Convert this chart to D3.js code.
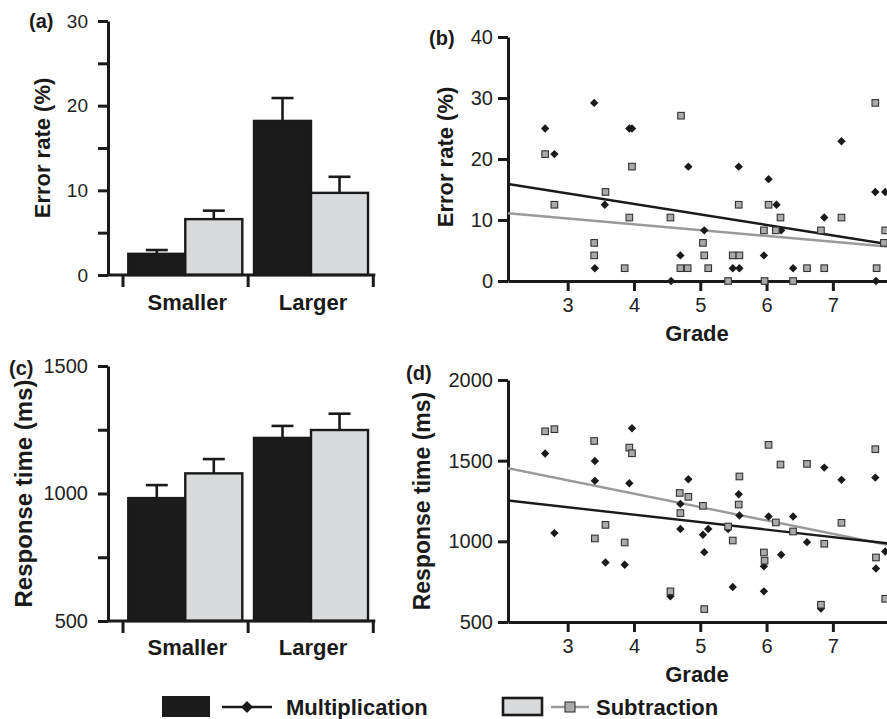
<!DOCTYPE html>
<html>
<head>
<meta charset="utf-8">
<script src="https://d3js.org/d3.v7.min.js"></script>
<style>
  body { margin: 0; background: #fff; }
  svg { display: block; font-family: "Liberation Sans", Arial, Helvetica, sans-serif; }
  .tick text { font-family: "Liberation Sans", Arial, Helvetica, sans-serif; fill: #222; }
  .bold { font-weight: bold; fill: #1a1a1a; }
</style>
</head>
<body>
<div class="chart"></div>
<script>
// Data
//= ================================
var categories = ["Smaller", "Larger"];
var seriesNames = ["Multiplication", "Subtraction"];

// bar panels: mean and mean + error (top of whisker)
var errorMult = [2.5, 18.2];
var errorMultErr = [2.95, 20.9];
var errorSub = [6.6, 9.7];
var errorSubErr = [7.6, 11.6];

var rtMult = [982, 1218];
var rtMultErr = [1033, 1265];
var rtSub = [1079, 1249];
var rtSubErr = [1135, 1313];

// scatter panels: [grade, value]
var errGradeMult = [[2.66, 25], [2.80, 20.8], [3.40, 29.2], [3.56, 12.5], [3.41, 2.1], [3.93, 25], [3.97, 25],
  [4.82, 18.75], [4.70, 4.2], [4.56, 0], [5.06, 8.3], [5.58, 18.75], [5.49, 2.1], [5.59, 2.1], [6.03, 16.7],
  [6.15, 12.5], [6.22, 8.3], [5.96, 4.2], [6.40, 2.1], [6.87, 10.4], [7.13, 22.9], [7.64, 14.6], [7.79, 14.6], [7.65, 0]];
var errGradeSub = [[2.66, 20.8], [2.80, 12.5], [3.40, 6.25], [3.40, 4.2], [3.57, 14.6], [3.97, 18.75], [3.93, 10.4],
  [3.86, 2.1], [4.71, 27.1], [4.55, 10.4], [4.70, 2.1], [4.81, 2.1], [5.04, 6.25], [5.06, 4.2], [5.12, 2.1],
  [5.42, 0], [5.49, 4.2], [5.59, 4.2], [5.58, 12.5], [5.96, 8.3], [6.03, 12.5], [6.14, 8.3], [6.21, 10.4],
  [5.97, 0], [6.40, 0], [6.61, 2.1], [6.87, 2.1], [6.82, 8.3], [7.13, 10.4], [7.64, 29.2], [7.66, 2.1],
  [7.77, 6.25], [7.79, 8.3]];
var errFitMult = [[2.1, 15.9], [8.5, 4.9]];
var errFitSub = [[2.1, 11.1], [8.5, 5.0]];

var rtGradeMult = [[2.66, 1544], [2.80, 1051], [3.41, 1498], [3.41, 1375], [3.57, 869], [3.97, 1701], [3.93, 1360],
  [3.86, 855], [4.55, 659], [4.70, 1232], [4.70, 1076], [4.82, 1385], [5.04, 1041], [5.12, 1076], [5.06, 933],
  [5.42, 1076], [5.49, 717], [5.58, 1292], [5.59, 1160], [5.96, 845], [5.96, 690], [6.03, 1154], [6.22, 917],
  [6.40, 1154], [6.61, 995], [6.82, 583], [6.87, 1457], [7.13, 1381], [7.64, 1395], [7.65, 832], [7.79, 937]];
var rtGradeSub = [[2.66, 1682], [2.80, 1695], [3.40, 1622], [3.41, 1018], [3.57, 1102], [3.93, 1581], [3.97, 1546],
  [3.86, 993], [4.55, 690], [4.69, 1300], [4.82, 1276], [4.70, 1175], [5.04, 1220], [5.06, 580], [5.42, 1092],
  [5.49, 1005], [5.59, 1402], [5.58, 1228], [5.96, 931], [5.97, 880], [6.03, 1598], [6.14, 1117], [6.21, 1476],
  [6.40, 1061], [6.61, 1480], [6.82, 607], [6.87, 985], [7.13, 1115], [7.64, 1571], [7.65, 900], [7.79, 644]];
var rtFitMult = [[2.1, 1253], [8.5, 957]];
var rtFitSub = [[2.1, 1453], [8.5, 922]];

var errTicks = [0, 5, 10, 15, 20, 25, 30];
var errLabels = [0, 10, 20, 30];
var rtTicks = [500, 750, 1000, 1250, 1500];
var rtLabels = [500, 1000, 1500];
var gradeTicks = [3, 4, 5, 6, 7];
var errScatterTicks = [0, 10, 20, 30, 40];
var rtScatterTicks = [500, 1000, 1500, 2000];

// Colours
var darkFill = "#1b1b1b";
var lightFill = "#d9dadc";
var squareFill = "#aaaaaa";
var fitGray = "#9a9a9a";
var ink = "#1a1a1a";

var svgWidth = 887;
var svgHeight = 719;

var svg = d3.select(".chart").append("svg")
  .attr("width", svgWidth)
  .attr("height", svgHeight);

function styleAxis(g, fontSize) {
  g.select(".domain").attr("stroke", ink).attr("stroke-width", 3);
  g.selectAll(".tick line").attr("stroke", ink).attr("stroke-width", 3);
  g.selectAll(".tick text").style("font-size", fontSize + "px");
}

// Bar panel (a) / (c)
//= ================================
function barPanel(opts) {
  var yScale = d3.scaleLinear().domain(opts.yDomain).range([opts.yBottom, opts.yTop]);
  var xBand = d3.scaleBand().domain(categories).range([123, 373.3]).paddingInner(0.093).paddingOuter(0.042);
  var xSeries = d3.scaleBand().domain(seriesNames).range([0, xBand.bandwidth()]);
  var axisX = 108;

  var g = svg.append("g");

  var rows = categories.map(function(c, i) {
    return [
      { cat: c, s: seriesNames[0], v: opts.mult[i], e: opts.multErr[i], fill: darkFill },
      { cat: c, s: seriesNames[1], v: opts.sub[i], e: opts.subErr[i], fill: lightFill }
    ];
  });
  var bars = [].concat.apply([], rows);

  // error whiskers
  g.selectAll(".whisker").data(bars).enter().append("line")
    .attr("x1", function(d) { return xBand(d.cat) + xSeries(d.s) + xSeries.bandwidth() / 2; })
    .attr("x2", function(d) { return xBand(d.cat) + xSeries(d.s) + xSeries.bandwidth() / 2; })
    .attr("y1", function(d) { return yScale(d.v); })
    .attr("y2", function(d) { return yScale(d.e); })
    .attr("stroke", ink).attr("stroke-width", 2.6);
  g.selectAll(".cap").data(bars).enter().append("line")
    .attr("x1", function(d) { return xBand(d.cat) + xSeries(d.s) + xSeries.bandwidth() / 2 - 11; })
    .attr("x2", function(d) { return xBand(d.cat) + xSeries(d.s) + xSeries.bandwidth() / 2 + 11; })
    .attr("y1", function(d) { return yScale(d.e); })
    .attr("y2", function(d) { return yScale(d.e); })
    .attr("stroke", ink).attr("stroke-width", 2.6);

  g.selectAll(".bar").data(bars).enter().append("rect")
    .attr("x", function(d) { return xBand(d.cat) + xSeries(d.s); })
    .attr("y", function(d) { return yScale(d.v); })
    .attr("width", xSeries.bandwidth())
    .attr("height", function(d) { return yScale(opts.yDomain[0]) - yScale(d.v); })
    .attr("fill", function(d) { return d.fill; })
    .attr("stroke", ink).attr("stroke-width", 2.4);

  // y axis: all ticks, labels on some
  var leftAxis = d3.axisLeft(yScale).tickValues(opts.ticks).tickSize(10).tickSizeOuter(0).tickPadding(10)
    .tickFormat(function(d) { return opts.labels.indexOf(d) >= 0 ? d : ""; });
  g.append("g").attr("transform", "translate(" + axisX + ",0)").call(leftAxis).call(styleAxis, opts.tickFont);

  // x axis base line and category separators
  g.append("line")
    .attr("x1", axisX).attr("x2", xBand.range()[1] + 2)
    .attr("y1", opts.yBottom).attr("y2", opts.yBottom)
    .attr("stroke", ink).attr("stroke-width", 3);
  var seps = [xBand.range()[0], (xBand("Smaller") + xBand.bandwidth() + xBand("Larger")) / 2, xBand.range()[1]];
  g.selectAll(".sep").data(seps).enter().append("line")
    .attr("x1", function(d) { return d; }).attr("x2", function(d) { return d; })
    .attr("y1", opts.yBottom).attr("y2", opts.yBottom + 12)
    .attr("stroke", ink).attr("stroke-width", 3);

  g.selectAll(".catLabel").data(categories).enter().append("text")
    .attr("class", "bold")
    .attr("x", function(d) { return xBand(d) + xBand.bandwidth() / 2 + 2; })
    .attr("y", opts.catY)
    .attr("text-anchor", "middle")
    .style("font-size", "22px")
    .text(function(d) { return d; });

  g.append("text").attr("class", "bold")
    .attr("transform", "translate(" + opts.titleX + "," + (opts.yBottom + opts.yTop) / 2 + ") rotate(-90)")
    .attr("text-anchor", "middle")
    .style("font-size", opts.titleFont + "px")
    .text(opts.title);

  g.append("text").attr("class", "bold")
    .attr("x", opts.letterX).attr("y", opts.letterY)
    .style("font-size", "20px")
    .text(opts.letter);
}

// Scatter panel (b) / (d)
//= ================================
function diamondPath(r) {
  return "M0," + (-r) + "L" + r + ",0L0," + r + "L" + (-r) + ",0Z";
}

function scatterPanel(opts) {
  var xScale = d3.scaleLinear().domain([2.1, 8.5]).range([508, 508 + 6.4 * 66.3]);
  var yScale = d3.scaleLinear().domain(opts.yDomain).range([opts.yBottom, opts.yTop]);
  var g = svg.append("g");

  var leftAxis = d3.axisLeft(yScale).tickValues(opts.yTicks).tickSize(10).tickSizeOuter(0).tickPadding(5)
    .tickFormat(d3.format("d"));
  g.append("g").attr("transform", "translate(508,0)").call(leftAxis).call(styleAxis, 20);

  var bottomAxis = d3.axisBottom(xScale).tickValues(gradeTicks).tickSize(10).tickSizeOuter(0).tickPadding(7)
    .tickFormat(d3.format("d"));
  g.append("g").attr("transform", "translate(0," + opts.yBottom + ")").call(bottomAxis).call(styleAxis, 20);

  var line = d3.line()
    .x(function(d) { return xScale(d[0]); })
    .y(function(d) { return yScale(d[1]); });

  g.append("path").datum(opts.fitSub).attr("d", line)
    .attr("fill", "none").attr("stroke", fitGray).attr("stroke-width", 2.4);
  g.append("path").datum(opts.fitMult).attr("d", line)
    .attr("fill", "none").attr("stroke", ink).attr("stroke-width", 2.4);

  g.selectAll(".dia").data(opts.mult).enter().append("path")
    .attr("d", diamondPath(4.2))
    .attr("transform", function(d) { return "translate(" + xScale(d[0]) + "," + yScale(d[1]) + ")"; })
    .attr("fill", ink);

  g.selectAll(".sq").data(opts.sub).enter().append("rect")
    .attr("x", function(d) { return xScale(d[0]) - 3.3; })
    .attr("y", function(d) { return yScale(d[1]) - 3.3; })
    .attr("width", 6.6).attr("height", 6.6)
    .attr("fill", squareFill).attr("stroke", "#333").attr("stroke-width", 1.1);

  g.append("text").attr("class", "bold")
    .attr("x", 697).attr("y", opts.gradeY)
    .attr("text-anchor", "middle")
    .style("font-size", "22px")
    .text("Grade");

  g.append("text").attr("class", "bold")
    .attr("transform", "translate(" + opts.titleX + "," + opts.titleY + ") rotate(-90)")
    .attr("text-anchor", "middle")
    .style("font-size", opts.titleFont + "px")
    .text(opts.title);

  g.append("text").attr("class", "bold")
    .attr("x", opts.letterX).attr("y", opts.letterY)
    .style("font-size", "20px")
    .text(opts.letter);
}

barPanel({
  yDomain: [0, 30], yBottom: 275, yTop: 21, ticks: errTicks, labels: errLabels, tickFont: 19,
  mult: errorMult, multErr: errorMultErr, sub: errorSub, subErr: errorSubErr,
  catY: 310, title: "Error rate (%)", titleX: 50, titleFont: 22,
  letter: "(a)", letterX: 29, letterY: 28
});

barPanel({
  yDomain: [500, 1500], yBottom: 621, yTop: 366, ticks: rtTicks, labels: rtLabels, tickFont: 20,
  mult: rtMult, multErr: rtMultErr, sub: rtSub, subErr: rtSubErr,
  catY: 655, title: "Response time (ms)", titleX: 32, titleFont: 24,
  letter: "(c)", letterX: 9, letterY: 375
});

scatterPanel({
  yDomain: [0, 40], yBottom: 281, yTop: 37, yTicks: errScatterTicks,
  mult: errGradeMult, sub: errGradeSub, fitMult: errFitMult, fitSub: errFitSub,
  gradeY: 341, title: "Error rate (%)", titleX: 453, titleY: 157, titleFont: 22,
  letter: "(b)", letterX: 429, letterY: 45
});

scatterPanel({
  yDomain: [500, 2000], yBottom: 622, yTop: 380, yTicks: rtScatterTicks,
  mult: rtGradeMult, sub: rtGradeSub, fitMult: rtFitMult, fitSub: rtFitSub,
  gradeY: 682, title: "Response time (ms)", titleX: 430, titleY: 501, titleFont: 23,
  letter: "(d)", letterX: 406, letterY: 380
});

// Legend
//= ================================
var legend = svg.append("g");
legend.append("rect").attr("x", 162).attr("y", 696).attr("width", 48).attr("height", 21).attr("fill", darkFill);
legend.append("line").attr("x1", 222).attr("x2", 272).attr("y1", 707).attr("y2", 707)
  .attr("stroke", ink).attr("stroke-width", 2.6);
legend.append("path").attr("d", diamondPath(6)).attr("transform", "translate(247,707)").attr("fill", ink);
legend.append("text").attr("class", "bold").attr("x", 286).attr("y", 715).style("font-size", "22px")
  .text(seriesNames[0]);

legend.append("rect").attr("x", 503).attr("y", 698).attr("width", 39).attr("height", 17)
  .attr("fill", lightFill).attr("stroke", ink).attr("stroke-width", 2.6);
legend.append("line").attr("x1", 551).attr("x2", 589).attr("y1", 707).attr("y2", 707)
  .attr("stroke", fitGray).attr("stroke-width", 2.6);
legend.append("rect").attr("x", 565).attr("y", 702).attr("width", 10).attr("height", 10)
  .attr("fill", squareFill).attr("stroke", "#333").attr("stroke-width", 1.1);
legend.append("text").attr("class", "bold").attr("x", 596).attr("y", 715).style("font-size", "22px")
  .text(seriesNames[1]);
</script>
</body>
</html>
